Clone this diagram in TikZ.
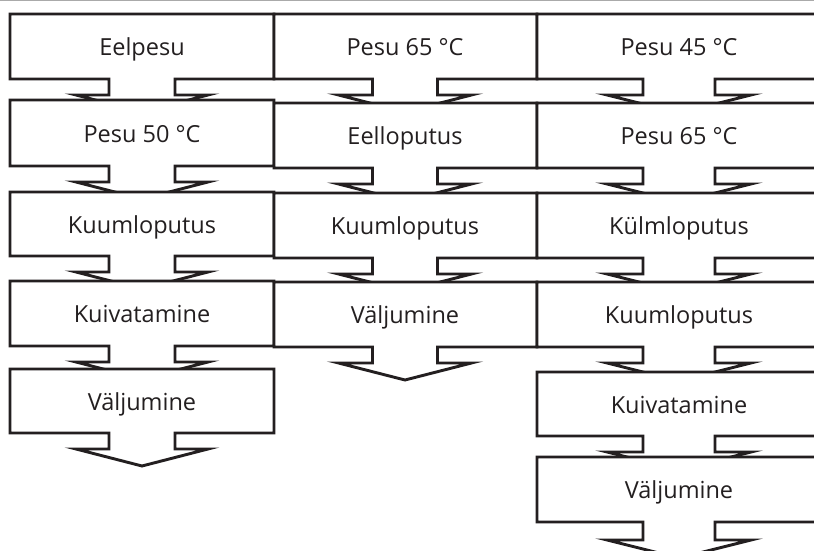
\documentclass[tikz,border=0pt]{standalone}
\usepackage{fontspec}
\setmainfont{Open Sans}
\definecolor{ink}{HTML}{231F20}
\definecolor{rulegray}{HTML}{AAAAAA}
\newcommand\stemlen{16}
\newcommand\tipdep{17}
\newcommand\flowbox[9]{%
  \draw[boxline] (#2,#4) -- (#3,#4) -- (#3,#5) -- ({#6+#7},#5) -- ({#6+#7},{#5+\stemlen})
    -- ({#6+#8},{#5+\stemlen}) -- (#6,{#5+\stemlen+\tipdep}) -- ({#6-#8},{#5+\stemlen})
    -- ({#6-#7},{#5+\stemlen}) -- ({#6-#7},#5) -- (#2,#5) -- cycle;
  \node[boxtext] (#1) at (#6,{(#4+#5)/2+9}) {#9};%
}
\tikzset{
  boxline/.style={draw=ink, fill=white, line width=2.9pt, line join=miter},
  boxtext/.style={text=ink, font=\fontsize{23.5}{28}\selectfont, inner sep=0pt, anchor=base},
}
\begin{document}
\begin{tikzpicture}[x=1pt,y=-1pt]
\useasboundingbox (0,0) rectangle (814,551);
\fill[white] (0,0) rectangle (814,551);
\clip (0,0) rectangle (814,551);
\draw[rulegray, line width=1pt] (0,0.5) -- (814,0.5);
% column 1
\flowbox{a1}{10}{274}{14}{79}{142}{33}{66}{Eelpesu}
\flowbox{a2}{10}{274}{100}{166}{142}{33}{66}{Pesu 50 °C}
\flowbox{a3}{10}{274}{192}{256}{142}{33}{66}{Kuumloputus}
\flowbox{a4}{10}{274}{281}{346}{142}{33}{66}{Kuivatamine}
\flowbox{a5}{10}{274}{369}{433}{142}{33}{66}{Väljumine}
% column 2
\flowbox{b1}{274}{537}{14}{79}{405}{32.5}{66.5}{Pesu 65 °C}
\flowbox{b2}{274}{537}{103}{168}{405}{32.5}{66.5}{Eelloputus}
\flowbox{b3}{274}{537}{193}{258}{405}{32.5}{66.5}{Kuumloputus}
\flowbox{b4}{274}{537}{282}{347}{405}{32.5}{66.5}{Väljumine}
% column 3
\renewcommand\tipdep{18}
\flowbox{c1}{537}{822}{14}{79}{679}{36}{72}{Pesu 45 °C}
\flowbox{c2}{537}{822}{103}{168}{679}{36}{72}{Pesu 65 °C}
\flowbox{c3}{537}{822}{193}{258}{679}{36}{72}{Külmloputus}
\flowbox{c4}{537}{822}{282}{347}{679}{36}{72}{Kuumloputus}
\flowbox{c5}{537}{822}{372}{436}{679}{36}{72}{Kuivatamine}
\renewcommand\stemlen{18}
\flowbox{c6}{537}{822}{457}{522}{679}{36}{72}{Väljumine}
\end{tikzpicture}
\end{document}
